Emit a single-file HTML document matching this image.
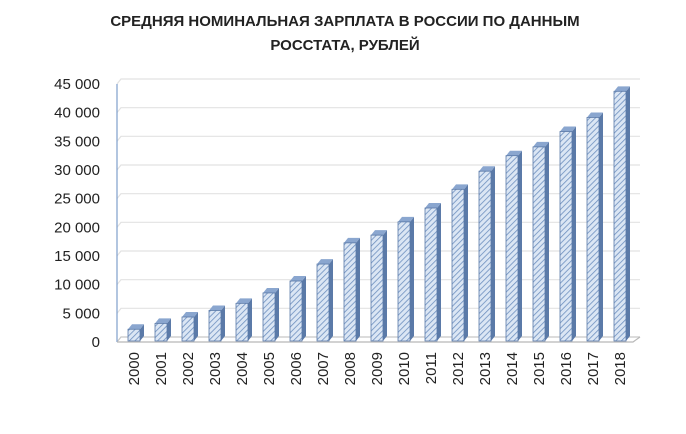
<!DOCTYPE html>
<html><head><meta charset="utf-8"><style>
body{margin:0;background:#fff;width:686px;height:429px;overflow:hidden;font-family:"Liberation Sans","DejaVu Sans",sans-serif}
</style></head><body>
<svg width="686" height="429" xmlns="http://www.w3.org/2000/svg">
<defs>
<pattern id="hatch" patternUnits="userSpaceOnUse" width="4" height="4" patternTransform="rotate(45)">
<rect width="4" height="4" fill="#dbe6f4"/><line x1="0" y1="0" x2="0" y2="4" stroke="#6d8fbf" stroke-width="1.6"/>
</pattern>
</defs>
<text x="345" y="26" text-anchor="middle" font-size="15" font-weight="bold" fill="#222">СРЕДНЯЯ НОМИНАЛЬНАЯ ЗАРПЛАТА В РОССИИ ПО ДАННЫМ</text>
<text x="345" y="50" text-anchor="middle" font-size="15" font-weight="bold" fill="#222">РОССТАТА, РУБЛЕЙ</text>
<g id="grid"></g><g id="bars"></g><g id="labels"></g>
</svg>
<script>
const years=["2000","2001","2002","2003","2004","2005","2006","2007","2008","2009","2010","2011","2012","2013","2014","2015","2016","2017","2018"];
const salaries=[2223,3240,4360,5499,6740,8555,10634,13593,17290,18638,20952,23369,26629,29792,32495,34030,36709,39167,43724];
const yTicks=[0,5000,10000,15000,20000,25000,30000,35000,40000,45000];
const yTickLabels=["0","5 000","10 000","15 000","20 000","25 000","30 000","35 000","40 000","45 000"];
const NS="http://www.w3.org/2000/svg";
const y0=342,yTop=84,yMax=45000;
function yScale(v){return y0-(v/yMax)*(y0-yTop);}
function xScale(i){return 134+i*27;}
function mk(tag,attrs,parent){const e=document.createElementNS(NS,tag);for(const k in attrs)e.setAttribute(k,attrs[k]);parent.appendChild(e);return e;}
const grid=document.getElementById('grid'),bars=document.getElementById('bars'),labels=document.getElementById('labels');
const dx=4,dy=-5;
yTicks.forEach((t,i)=>{
  const y=yScale(t);
  const l=mk('polyline',{points:`117,${y} ${117+dx},${y+dy} 640,${y+dy}`,fill:'none',stroke:i===0?'#c8c8c8':'#e2e2e2','stroke-width':1.2},grid);
  
  
  const tx=mk('text',{x:100,y:y+5,'text-anchor':'end','font-size':15,fill:'#222'},labels);
  tx.textContent=yTickLabels[i];
  
  
});
const ax=mk('line',{x1:117,y1:yTop,x2:117,y2:y0,stroke:'#7f9fcc','stroke-width':1.2},grid);


const fl=mk('polyline',{points:`117,${y0} 633,${y0} 640,${y0+dy}`,fill:'none',stroke:'#b8b8b8','stroke-width':1.2},grid);


salaries.forEach((v,i)=>{
  const cx=xScale(i),w=12,x=cx-w/2,y=yScale(v),b=y0-1;
  const g=mk('g',{},bars);
  
  
  mk('polygon',{points:`${x+w},${y} ${x+w+dx},${y+dy} ${x+w+dx},${b+dy} ${x+w},${b}`,fill:'#5b7aa8'},g);
  mk('polygon',{points:`${x},${y} ${x+dx},${y+dy} ${x+w+dx},${y+dy} ${x+w},${y}`,fill:'#8aa6cf'},g);
  mk('rect',{x:x,y:y,width:w,height:b-y,fill:'url(#hatch)',stroke:'#5b7aa8','stroke-width':0.8},g);
  const t=mk('text',{x:0,y:0,'font-size':15,fill:'#222','text-anchor':'end',transform:`translate(${cx+5},352) rotate(-90)`},labels);
  t.textContent=years[i];
  
  
});
</script>
</body></html>
